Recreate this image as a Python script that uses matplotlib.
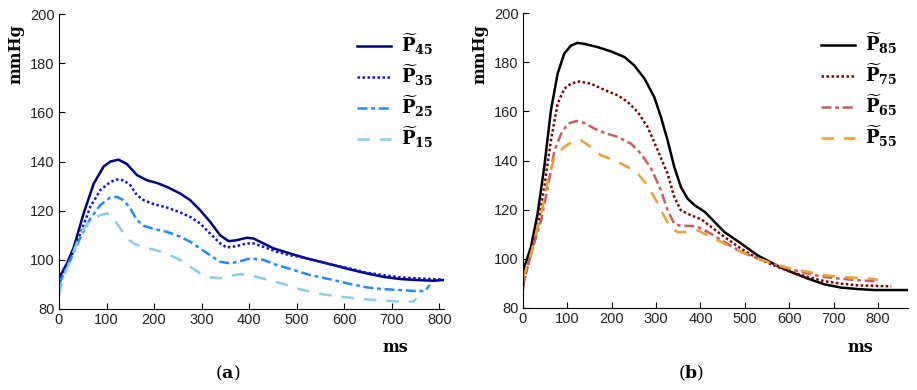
import matplotlib
matplotlib.use("Agg")
import matplotlib.pyplot as plt

plt.rcParams['mathtext.fontset'] = 'custom'
plt.rcParams['mathtext.bf'] = 'DejaVu Serif:bold'
plt.rcParams['mathtext.rm'] = 'DejaVu Serif'

# ---- Panel (a) data ----
x45 = [0, 17, 31, 52, 73, 94, 108, 125, 143, 164, 185, 206, 227, 255, 276, 297, 318, 339, 357, 374, 395, 409, 430, 451, 486, 521, 577, 612, 647, 682, 717, 752, 787, 808]
y45 = [92.5, 98.6, 105, 119, 131, 138, 140, 140.8, 139, 134.5, 132.4, 131.3, 129.7, 127, 124.3, 120.2, 115.5, 110, 107.6, 108, 109, 108.7, 106.7, 104.7, 102.6, 100.6, 97.9, 96.1, 94.5, 93.1, 92.2, 91.8, 91.5, 91.8]

x35 = [0, 17, 45, 66, 87, 108, 122, 136, 150, 164, 178, 199, 227, 255, 276, 297, 318, 339, 353, 374, 395, 409, 430, 458, 486, 521, 577, 612, 647, 682, 717, 752, 787, 808]
y35 = [91, 97, 110.7, 121.6, 128.4, 131.7, 132.7, 132.4, 130.4, 126.3, 124.3, 122.7, 121.3, 119.3, 117.5, 114.8, 110.7, 106.7, 105, 105.6, 106.7, 106.7, 105.3, 103.3, 101.9, 100.6, 97.9, 96.5, 94.8, 93.8, 92.9, 92.5, 92.2, 92]

x25 = [0, 17, 45, 66, 87, 108, 122, 136, 150, 164, 178, 199, 227, 255, 276, 297, 318, 339, 360, 381, 402, 430, 458, 493, 528, 577, 612, 647, 682, 717, 752, 770, 780]
y25 = [90, 97, 109, 116.8, 122.3, 125.4, 125.6, 124.3, 120.9, 116.2, 113.9, 112.6, 111.4, 109.4, 107.4, 104.6, 101.9, 99.2, 98.6, 99.4, 100.6, 100, 97.9, 95.9, 93.8, 91.8, 90.2, 88.8, 88.1, 87.7, 87.3, 87.3, 89.8]

x15 = [0, 10, 24, 45, 66, 87, 101, 115, 129, 143, 157, 178, 199, 227, 255, 276, 297, 318, 339, 360, 381, 402, 437, 472, 507, 542, 577, 612, 647, 682, 717, 745, 752]
y15 = [85.5, 93, 100, 110.7, 116.2, 118.2, 118.9, 116.8, 112.8, 108.7, 106.7, 105, 104.2, 102.6, 99.9, 97.2, 94.5, 92.9, 92.5, 93.4, 94.2, 93.7, 92, 90.2, 88, 86.4, 85.3, 84.6, 83.9, 83.4, 83, 83, 84.3]

# ---- Panel (b) data ----
x85 = [0, 3, 18, 33, 48, 63, 78, 93, 108, 123, 138, 168, 199, 229, 251, 274, 296, 311, 326, 341, 356, 371, 387, 410, 432, 454, 492, 529, 574, 605, 643, 680, 717, 755, 792, 830, 868]
y85 = [88, 96.7, 104.8, 118.4, 137.4, 160.4, 175.3, 183.5, 186.8, 187.9, 187.5, 186.2, 184.4, 182.1, 178.7, 173.3, 165.8, 157.7, 148.2, 137.4, 129.2, 124.5, 121.8, 119.1, 115, 110.9, 106.2, 101.4, 97.1, 94.6, 91.9, 89.6, 88.3, 87.7, 87.3, 87.3, 87.3]

x75 = [0, 18, 33, 48, 63, 78, 93, 108, 127, 153, 183, 214, 236, 259, 281, 304, 326, 341, 356, 379, 402, 424, 454, 492, 529, 574, 605, 643, 680, 717, 755, 792, 830]
y75 = [90, 102, 113, 129.2, 148.2, 163.1, 169.2, 171.3, 172.2, 171.3, 168.8, 166.5, 163.8, 159.7, 153.6, 144.1, 134.6, 125.2, 119.7, 117.7, 116.1, 113, 108.9, 104.1, 100.1, 96.7, 94.6, 92.6, 90.9, 89.9, 89.2, 89, 88.8]

x65 = [0, 18, 41, 56, 71, 86, 101, 120, 138, 161, 183, 214, 244, 266, 289, 311, 326, 341, 356, 379, 394, 424, 454, 492, 529, 574, 605, 643, 680, 717, 755, 785, 800]
y65 = [89, 102, 115.7, 129.2, 144.1, 150.9, 155, 156.1, 155.3, 153, 151.3, 149.6, 146.8, 142.8, 136.7, 127.9, 119.7, 114.3, 113.4, 113.4, 113, 110.2, 106.8, 102.8, 100.1, 97.4, 95.7, 94, 92.6, 91.9, 91.3, 91, 91]

x55 = [0, 18, 41, 56, 71, 93, 112, 131, 153, 176, 206, 236, 259, 281, 304, 319, 334, 349, 371, 394, 424, 454, 492, 529, 574, 605, 643, 680, 717, 755, 785, 800]
y55 = [92, 102, 118.4, 131.9, 141.4, 145.5, 147.8, 148.2, 145.5, 142.1, 140.1, 137.4, 134.6, 129.9, 122.4, 117, 112.3, 110.9, 110.9, 111.6, 108.9, 106.2, 102.8, 100.1, 97.4, 96, 94.7, 93.3, 92.6, 92.3, 91.9, 91.5]

labels_a = [r'$\mathbf{\widetilde{P}_{45}}$', r'$\mathbf{\widetilde{P}_{35}}$',
            r'$\mathbf{\widetilde{P}_{25}}$', r'$\mathbf{\widetilde{P}_{15}}$']
labels_b = [r'$\mathbf{\widetilde{P}_{85}}$', r'$\mathbf{\widetilde{P}_{75}}$',
            r'$\mathbf{\widetilde{P}_{65}}$', r'$\mathbf{\widetilde{P}_{55}}$']

xticks = [0, 100, 200, 300, 400, 500, 600, 700, 800]
yticks = [80, 100, 120, 140, 160, 180, 200]

fig = plt.figure(figsize=(9.17, 3.9), dpi=100)
axa = fig.add_axes([0.0643, 0.2077, 0.420, 0.756])
axb = fig.add_axes([0.5703, 0.2103, 0.420, 0.756])

lw = 1.8
axa.plot(x45, y45, color='#000080', lw=lw, ls='-', label=labels_a[0])
axa.plot(x35, y35, color='#1010E8', lw=lw, ls=(0, (1, 1)), label=labels_a[1])
axa.plot(x25, y25, color='#1E8CFF', lw=lw, ls=(0, (4, 1.5, 1.5, 1.5)), label=labels_a[2])
axa.plot(x15, y15, color='#87CEEB', lw=lw, ls=(0, (5, 4)), label=labels_a[3])

axb.plot(x85, y85, color='black', lw=lw, ls='-', label=labels_b[0])
axb.plot(x75, y75, color='#800000', lw=lw, ls=(0, (1, 1)), label=labels_b[1])
axb.plot(x65, y65, color='#CD5C5C', lw=lw, ls=(0, (4, 1.5, 1.5, 1.5)), label=labels_b[2])
axb.plot(x55, y55, color='#F0A030', lw=lw, ls=(0, (5, 4)), label=labels_b[3])

for ax, xmax in ((axa, 810), (axb, 868)):
    ax.set_xlim(0, xmax)
    ax.set_ylim(80, 200)
    ax.set_xticks(xticks)
    ax.set_yticks(yticks)
    ax.spines['top'].set_visible(False)
    ax.spines['right'].set_visible(False)
    ax.tick_params(direction='in', length=4, labelsize=10.5, pad=3)
    for lab in ax.get_xticklabels() + ax.get_yticklabels():
        lab.set_family('Liberation Sans')
        lab.set_color('#222222')
    ax.legend(loc='upper left', bbox_to_anchor=(0.755, 0.965), frameon=False,
              fontsize=13, handlelength=1.9, handletextpad=0.55, labelspacing=0.32,
              borderaxespad=0)

fig.text(16/917, 1 - 54/390, 'mmHg', rotation=90, ha='center', va='center',
         family='DejaVu Serif', fontweight='bold', fontsize=11.5)
fig.text(480/917, 1 - 54/390, 'mmHg', rotation=90, ha='center', va='center',
         family='DejaVu Serif', fontweight='bold', fontsize=11.5)
fig.text(395/917, 1 - 348/390, 'ms', ha='center', va='center',
         family='DejaVu Serif', fontweight='bold', fontsize=11.5)
fig.text(860/917, 1 - 347/390, 'ms', ha='center', va='center',
         family='DejaVu Serif', fontweight='bold', fontsize=11.5)
fig.text(228/917, 1 - 373/390, r'($\mathbf{a}$)', ha='center', va='center',
         family='DejaVu Serif', fontsize=12.5)
fig.text(691/917, 1 - 373/390, r'($\mathbf{b}$)', ha='center', va='center',
         family='DejaVu Serif', fontsize=12.5)

fig.savefig('out.png', dpi=100)
